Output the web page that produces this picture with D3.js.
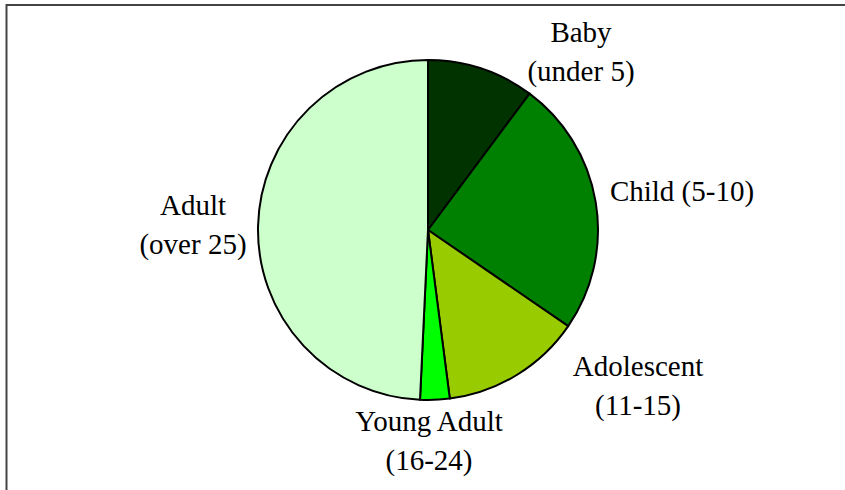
<!DOCTYPE html>
<meta charset="utf-8">
<head>
<script src="https://d3js.org/d3.v7.min.js"></script>
<style>
  body { margin: 0; background: #fff; }
  .lbl { font-family: "Times New Roman", Times, "Nimbus Roman", "Nimbus Roman No9 L", Tinos, "Noto Serif", FreeSerif, "Liberation Serif", serif; }
</style>
</head>
<body>
<div id="my_dataviz"></div>
<script>

    // data (percent of whole)
    var groups = ["Baby", "Child", "Adolescent", "Young Adult", "Adult"];
    var shares = [10.2, 24.4, 13.4, 2.8, 49.3];
    var colors = ["#003300", "#008000", "#99cc00", "#00ff00", "#ccffcc"];
    // label text, one entry per line
    var labelLines = [
      ["Baby", "(under 5)"],
      ["Child (5-10)"],
      ["Adolescent", "(11-15)"],
      ["Young Adult", "(16-24)"],
      ["Adult", "(over 25)"]
    ];
    // label centre x and first baseline, offset from pie centre in px
    var labelOffset = [[153, -188], [254, -29], [210, 146], [1, 201], [-235, -15]];

    var width = 845, height = 490,
        cx = 428, cy = 230, radius = 170;

    var svg = d3.select("#my_dataviz")
      .append("svg")
        .attr("width", width)
        .attr("height", height);

    // outer frame (only top and left show in the picture)
    svg.append("rect")
      .attr("x", 6.5)
      .attr("y", 5)
      .attr("width", 900)
      .attr("height", 600)
      .style("fill", "none")
      .style("stroke", "#444")
      .style("stroke-width", 2);

    var g = svg.append("g")
      .attr("transform", "translate(" + cx + "," + cy + ")");

    var data = groups.map(function(d, i) { return {name: d, value: shares[i], i: i}; });

    var pie = d3.pie()
      .sort(null)
      .value(function(d) { return d.value; });

    var arc = d3.arc()
      .innerRadius(0)
      .outerRadius(radius);

    g.selectAll("path")
      .data(pie(data))
      .enter()
      .append("path")
        .attr("d", arc)
        .style("fill", function(d) { return colors[d.data.i]; })
        .style("stroke", "#000")
        .style("stroke-width", 2)
        .style("stroke-linejoin", "round");

    // labels
    var lineH = 39;
    data.forEach(function(d, i) {
      var lines = labelLines[i];
      var off = labelOffset[i];
      var t = g.append("text")
        .attr("class", "lbl")
        .attr("text-anchor", "middle")
        .attr("font-size", 29)
        .style("fill", "#000");
      lines.forEach(function(s, k) {
        t.append("tspan")
          .attr("x", off[0])
          .attr("y", off[1] + k * lineH)
          .text(s);
      });
    });

</script>
</body>
</html>
